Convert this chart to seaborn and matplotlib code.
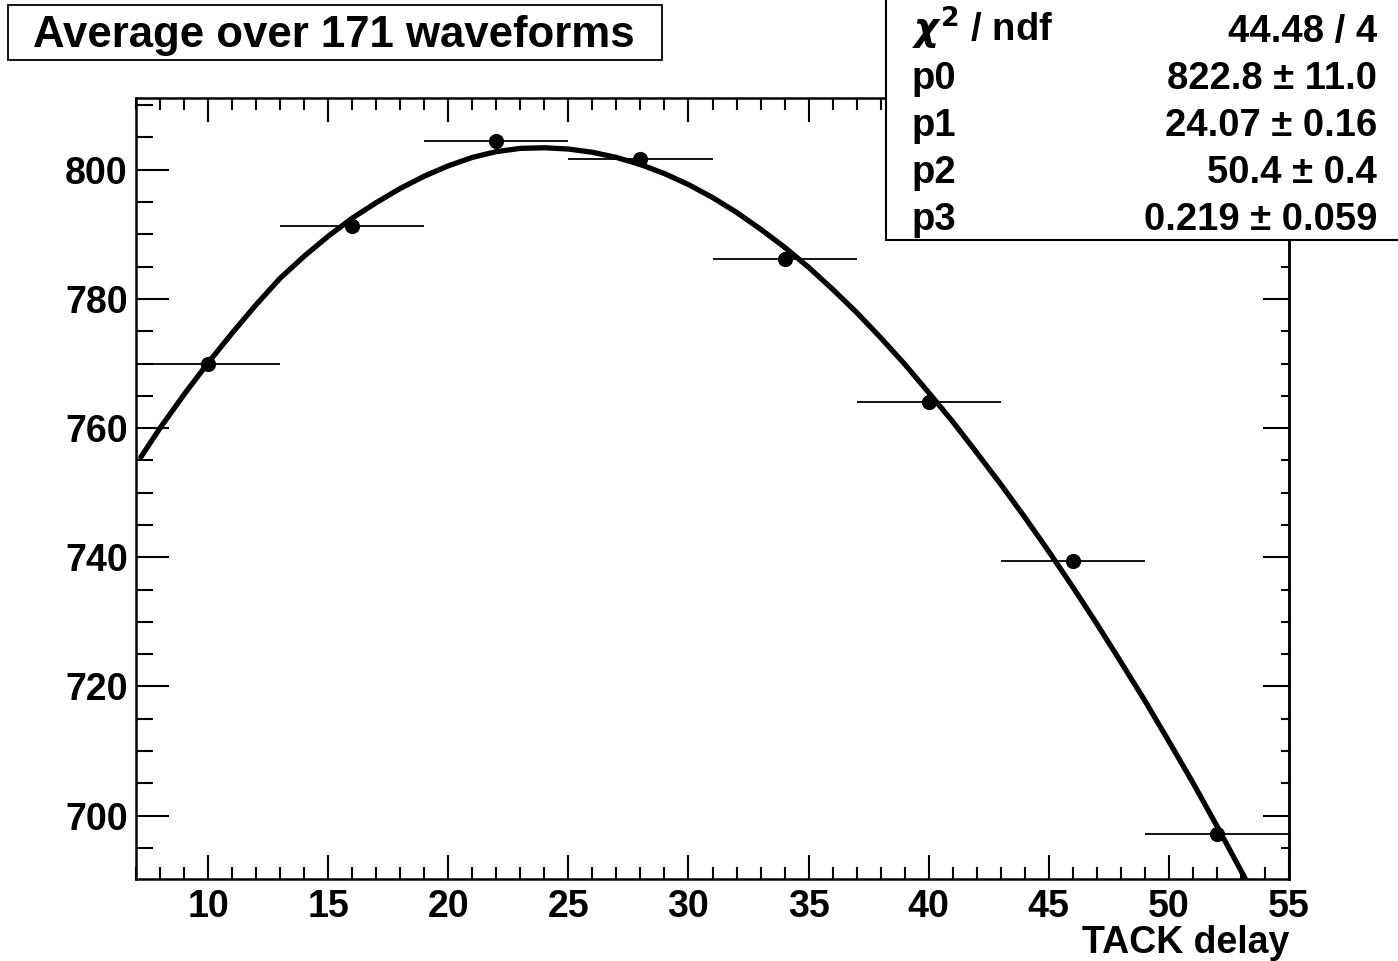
import numpy as np
import matplotlib
matplotlib.use("Agg")
import matplotlib.pyplot as plt
from matplotlib.patches import Rectangle
from matplotlib.ticker import MultipleLocator
import seaborn as sns
import pandas as pd

# ---- data ----
delay = [10, 16, 22, 28, 34, 40, 46, 52]
amplitude = [770.0, 791.3, 804.4, 801.6, 786.2, 764.0, 739.5, 697.1]
delay_err = [3, 3, 3, 3, 3, 3, 3, 3]

# fitted curve
fit_x = [7.2, 8, 9, 10, 11, 12, 13, 14, 15, 16, 17, 18, 19, 20, 21, 22, 23, 24,
         25, 26, 27, 28, 29, 30, 31, 32, 33, 34, 35, 36, 37, 38, 39, 40, 41, 42,
         43, 44, 45, 46, 47, 48, 49, 50, 51, 52, 53, 53.6]
fit_y = [755.5, 760.0, 765.2, 770.1, 774.7, 779.1, 783.2, 786.6, 789.7, 792.5,
         794.9, 797.1, 799.0, 800.6, 801.9, 802.8, 803.3, 803.4, 803.2, 802.7,
         801.9, 800.8, 799.4, 797.7, 795.7, 793.4, 790.8, 788.0, 784.9, 781.5,
         777.9, 774.0, 769.9, 765.5, 761.0, 756.2, 751.3, 746.2, 740.9, 735.4,
         729.7, 723.8, 717.8, 711.5, 705.1, 698.4, 691.5, 687.3]

stat_labels = [r"$\chi^{\mathbf{2}}$ / ndf", "p0", "p1", "p2", "p3"]
stat_values = ["44.48 / 4", "822.8 ± 11.0", "24.07 ± 0.16", "50.4 ± 0.4", "0.219 ± 0.059"]
title_text = "Average over 171 waveforms"
x_label = "TACK delay"

sns.set_theme(style="white")
plt.rcParams["font.family"] = ["Liberation Sans", "DejaVu Sans"]
plt.rcParams["font.weight"] = "bold"
for k in ["text.color", "axes.labelcolor", "xtick.color", "ytick.color", "axes.edgecolor"]:
    plt.rcParams[k] = "black"

W, H = 1398, 961
fig = plt.figure(figsize=(W / 100, H / 100), dpi=100)
fig.patch.set_facecolor("white")
L, R, T, B = 136, 1289, 98, 879
ax = fig.add_axes([L / W, 1 - B / H, (R - L) / W, (B - T) / H])
ax.set_facecolor("white")

pts = pd.DataFrame({"x": delay, "y": amplitude})
curve = pd.DataFrame({"x": fit_x, "y": fit_y})

ax.errorbar(delay, amplitude, xerr=delay_err, fmt="none", ecolor="black",
            elinewidth=1.3, capsize=0, zorder=2)
sns.lineplot(data=curve, x="x", y="y", ax=ax, color="black", linewidth=3.8,
             sort=False, estimator=None, zorder=3)
ax.lines[-1].set_solid_joinstyle("round")
sns.scatterplot(data=pts, x="x", y="y", ax=ax, color="black", s=120,
                edgecolor="black", linewidth=0, zorder=4)

ax.set_xlim(7, 55)
ax.set_ylim(690.2, 811.1)
ax.xaxis.set_major_locator(MultipleLocator(5))
ax.xaxis.set_minor_locator(MultipleLocator(1))
ax.yaxis.set_major_locator(MultipleLocator(20))
ax.yaxis.set_minor_locator(MultipleLocator(5))

for s in ax.spines.values():
    s.set_linewidth(1.8)
    s.set_color("black")

ax.tick_params(axis="x", which="major", direction="in", length=17, width=1.5,
               top=True, bottom=True, labelsize=27, pad=7, colors="black")
ax.tick_params(axis="x", which="minor", direction="in", length=8.5, width=1.5,
               top=True, bottom=True, colors="black")
ax.tick_params(axis="y", which="major", direction="in", length=24, width=1.5,
               left=True, right=False, labelsize=27, pad=6, colors="black")
ax.tick_params(axis="y", which="minor", direction="in", length=12, width=1.5,
               left=True, right=False, colors="black")
for lab in ax.get_xticklabels() + ax.get_yticklabels():
    lab.set_fontweight("bold")

sec = ax.secondary_yaxis("right")
sec.yaxis.set_major_locator(MultipleLocator(20))
sec.yaxis.set_minor_locator(MultipleLocator(5))
sec.tick_params(which="major", direction="in", length=19, width=1.5,
                labelright=False, colors="black")
sec.tick_params(which="minor", direction="in", length=6, width=1.5, colors="black")
sec.spines["right"].set_linewidth(1.8)
sec.spines["right"].set_color("black")

ax.set_ylabel("")
ax.set_xlabel(x_label, fontsize=27, fontweight="bold", color="black")
ax.xaxis.set_label_coords(1.0, -(953 - B) / (B - T))
ax.xaxis.label.set_horizontalalignment("right")
ax.xaxis.label.set_verticalalignment("baseline")

# title box
fig.patches.append(Rectangle((8 / W, 1 - 60 / H), 654 / W, 55 / H,
                             transform=fig.transFigure, facecolor="white",
                             edgecolor="black", linewidth=1.3, zorder=10))
fig.text(334 / W, 1 - 47 / H, title_text, ha="center", va="baseline",
         fontsize=31.5, fontweight="bold", color="black", zorder=11)

# stats box
fig.patches.append(Rectangle((886 / W, 1 - 240 / H), 600 / W, 300 / H,
                             transform=fig.transFigure, facecolor="white",
                             edgecolor="black", linewidth=1.5, zorder=10))
baselines = [42, 89, 136, 183, 230]
for lab, val, yb in zip(stat_labels, stat_values, baselines):
    fig.text(912 / W, 1 - yb / H, lab, ha="left", va="baseline", fontsize=27.5,
             fontweight="bold", color="black", zorder=11)
    fig.text(1377 / W, 1 - yb / H, val, ha="right", va="baseline", fontsize=27.5,
             fontweight="bold", color="black", zorder=11)

fig.savefig("out.png", dpi=100, facecolor="white")
